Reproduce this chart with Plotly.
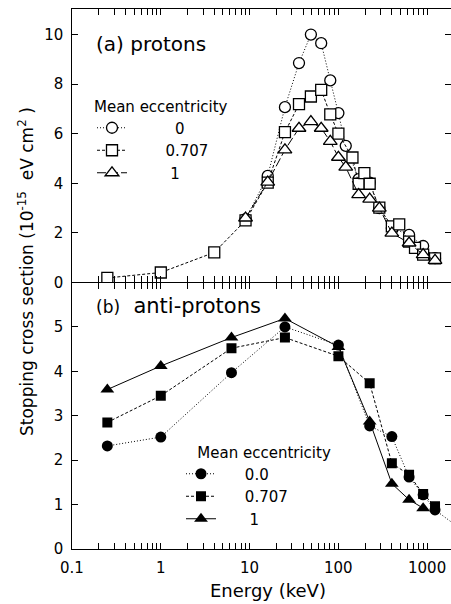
import math
import plotly.graph_objects as go

# ---------------- data ----------------
# (a) protons
top_x_circ = [9, 16, 25, 36, 49, 64, 81, 100, 121, 169, 225, 289, 400, 625, 900, 1225]
top_y_circ = [2.55, 4.30, 7.07, 8.85, 10.0, 9.65, 8.15, 6.83, 5.51, 4.17, 4.03, 3.0, 2.19, 1.92, 1.47, 0.98]

top_x_sq = [0.25, 1, 4, 9, 16, 25, 36, 49, 64, 81, 100, 144, 169, 196, 225, 289, 400, 484, 625, 729, 900, 1225]
top_y_sq = [0.18, 0.40, 1.21, 2.50, 4.03, 6.06, 7.19, 7.50, 7.77, 6.78, 6.00, 5.04, 3.98, 4.41, 3.98, 3.02, 2.26, 2.34, 1.65, 1.39, 1.12, 0.97]

top_x_tri = [9, 16, 25, 36, 49, 64, 81, 100, 121, 169, 225, 289, 400, 625, 900, 1225]
top_y_tri = [2.60, 4.05, 5.35, 6.22, 6.49, 6.22, 5.69, 5.05, 4.65, 3.54, 3.36, 3.00, 1.99, 1.59, 1.12, 0.89]

# (b) anti-protons
bot_x_circ = [0.25, 1, 6.25, 25, 100, 225, 400, 625, 900, 1225, 2500]
bot_y_circ = [2.32, 2.52, 3.97, 5.00, 4.59, 2.77, 2.53, 1.62, 1.22, 0.88, 0.42]

bot_x_sq = [0.25, 1, 6.25, 25, 100, 225, 400, 625, 900, 1225]
bot_y_sq = [2.85, 3.45, 4.52, 4.76, 4.34, 3.73, 1.93, 1.67, 1.24, 0.96]

bot_x_tri = [0.25, 1, 6.25, 25, 100, 225, 400, 625, 900]
bot_y_tri = [3.59, 4.12, 4.76, 5.19, 4.55, 2.87, 1.47, 1.11, 0.92]

NB = "\u00a0"
top_names = [NB * 9 + "0", NB * 7 + "0.707", NB * 8 + "1"]
bot_names = [NB * 5 + "0.0", NB * 5 + "0.707", NB * 6 + "1"]
x_tickvals = [0.1, 1, 10, 100, 1000]
x_ticktext = ["0.1", "1", "10", "100", "1000"]

# ---------------- geometry helpers ----------------
W, H = 451, 604
ML, MR, MT, MB = 72, 0, 9, 55
PW, PH = W - ML - MR, H - MT - MB


def px2x(px):
    return (px - ML) / PW


def py2y(py):
    return (H - MB - py) / PH


split = py2y(282.7)
FONT = "DejaVu Sans"
CLEAR = "rgba(0,0,0,0)"

fig = go.Figure()

open_marker = dict(color="white", line=dict(color="black", width=1.3))
fig.add_trace(go.Scatter(x=top_x_circ, y=top_y_circ, name=top_names[0], mode="lines+markers",
                         line=dict(color="black", width=1, dash="1px,2px"),
                         marker=dict(symbol="circle", size=11, **open_marker),
                         xaxis="x", yaxis="y", legend="legend", legendgroup="a0"))
fig.add_trace(go.Scatter(x=top_x_sq, y=top_y_sq, name=top_names[1], mode="lines+markers",
                         line=dict(color="black", width=1, dash="3px,2px"),
                         marker=dict(symbol="square", size=11, **open_marker),
                         xaxis="x", yaxis="y", legend="legend", legendgroup="a1"))
fig.add_trace(go.Scatter(x=top_x_tri, y=top_y_tri, name=top_names[2], mode="lines+markers",
                         line=dict(color="black", width=1, dash="9px,3px"),
                         marker=dict(symbol="triangle-up", size=12, **open_marker),
                         xaxis="x", yaxis="y", legend="legend", legendgroup="a2"))

fig.add_trace(go.Scatter(x=bot_x_circ, y=bot_y_circ, name=bot_names[0], mode="lines+markers",
                         line=dict(color="black", width=1, dash="1px,2px"),
                         marker=dict(symbol="circle", size=11, color="black"),
                         xaxis="x2", yaxis="y2", legend="legend2", legendgroup="b0"))
fig.add_trace(go.Scatter(x=bot_x_sq, y=bot_y_sq, name=bot_names[1], mode="lines+markers",
                         line=dict(color="black", width=1, dash="3px,2px"),
                         marker=dict(symbol="square", size=10, color="black"),
                         xaxis="x2", yaxis="y2", legend="legend2", legendgroup="b1"))
fig.add_trace(go.Scatter(x=bot_x_tri, y=bot_y_tri, name=bot_names[2], mode="lines+markers",
                         line=dict(color="black", width=1),
                         marker=dict(symbol="triangle-up", size=12, color="black"),
                         xaxis="x2", yaxis="y2", legend="legend2", legendgroup="b2"))

TL = 6
common_x = dict(type="log", range=[-1, 3.268], domain=[0, 1], showline=True, linecolor="black",
                linewidth=1, mirror="ticks", ticks="inside", ticklen=TL, tickcolor="black",
                gridcolor=CLEAR, zerolinecolor=CLEAR, dtick="D1", showticklabels=False)

common_y = dict(showline=True, linecolor="black", linewidth=1, ticks="inside", ticklen=TL,
                tickcolor="black", gridcolor=CLEAR, zerolinecolor=CLEAR, mirror="ticks",
                tickmode="linear", tick0=0, ticksuffix=NB,
                tickfont=dict(family=FONT, size=15, color="black"))

fig.update_layout(
    width=W, height=H,
    margin=dict(l=ML, r=MR, t=MT, b=MB),
    plot_bgcolor="white", paper_bgcolor="white",
    font=dict(family=FONT, size=15, color="black"),
    xaxis=dict(anchor="y", **common_x),
    xaxis2=dict(anchor="y2", **common_x),
    yaxis=dict(domain=[split + 0.0005, 1], anchor="x", range=[0, 11.03], dtick=2, **common_y),
    yaxis2=dict(domain=[0, split], anchor="x2", range=[0, 5.995], dtick=1, **common_y),
    legend=dict(x=px2x(92), y=py2y(92), xanchor="left", yanchor="top", bgcolor=CLEAR,
                borderwidth=0, font=dict(family=FONT, size=15), traceorder="grouped", tracegroupgap=0,
                title=dict(text="Mean eccentricity", font=dict(family=FONT, size=15))),
    legend2=dict(x=px2x(181), y=py2y(438), xanchor="left", yanchor="top", bgcolor=CLEAR,
                 borderwidth=0, font=dict(family=FONT, size=15), traceorder="grouped", tracegroupgap=0,
                 title=dict(text=NB * 3 + "Mean eccentricity", font=dict(family=FONT, size=15))),
    showlegend=True,
)

# x tick labels of the bottom axis, placed through the axis scale
for v, t in zip(x_tickvals, x_ticktext):
    fig.add_annotation(text=t, xref="x2", yref="paper", x=math.log10(v), y=py2y(568),
                       xanchor="center", yanchor="middle", showarrow=False,
                       font=dict(family=FONT, size=15, color="black"))

fig.add_annotation(text="(a) protons", xref="paper", yref="paper", x=px2x(94), y=py2y(44),
                   xanchor="left", yanchor="middle", showarrow=False, font=dict(family=FONT, size=20))
fig.add_annotation(text="<span style='font-size:17px'>(b)</span>" + NB + " anti-protons", xref="paper",
                   yref="paper", x=px2x(94), y=py2y(306), xanchor="left", yanchor="middle",
                   showarrow=False, font=dict(family=FONT, size=21))
fig.add_annotation(text="Energy (keV)", xref="paper", yref="paper", x=px2x(268), y=py2y(590),
                   xanchor="center", yanchor="middle", showarrow=False, font=dict(family=FONT, size=18))
fig.add_annotation(text="Stopping cross section (10<sup>-15</sup>" + NB + " eV cm<sup>2</sup>" + NB + ")",
                   xref="paper", yref="paper", x=px2x(26), y=py2y(272), textangle=-90,
                   xanchor="center", yanchor="middle", showarrow=False, font=dict(family=FONT, size=17))

fig.write_html("out.html")
